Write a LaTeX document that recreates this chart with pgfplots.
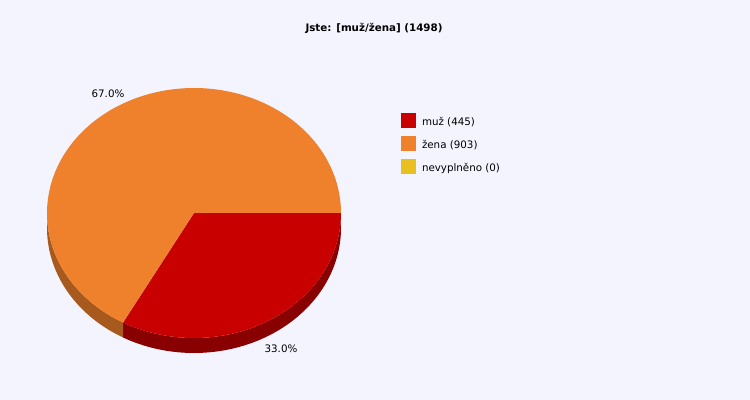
\documentclass[border=0pt]{standalone}
\usepackage{pgfplots}
\pgfplotsset{compat=1.18}
\usepgfplotslibrary{fillbetween}
\usepackage{fontspec}
\setmainfont{DejaVu Sans}
\definecolor{bg}{RGB}{244,244,255}
\definecolor{muz}{RGB}{200,0,0}
\definecolor{muzside}{RGB}{136,0,0}
\definecolor{zena}{RGB}{240,129,44}
\definecolor{zenaside}{RGB}{168,90,30}
\definecolor{nevypl}{RGB}{232,192,32}
\newcommand{\chartfont}{\fontsize{10.3bp}{12bp}\selectfont}
% counts per answer
\def\nmuz{445}
\def\nzena{903}
\def\nnone{0}
\pgfmathsetmacro{\amuz}{360*(\nmuz/(\nmuz+\nzena+\nnone))}
\pgfmathsetmacro{\azena}{360-\amuz}
% pie geometry in pixels (y up)
\def\cx{194}\def\cy{187}\def\rx{147}\def\ry{125}\def\dep{15}
\begin{document}
\begin{tikzpicture}
\fill[bg] (0,0) rectangle (750bp,400bp);
\begin{axis}[
    at={(0,0)}, anchor=south west,
    scale only axis, width=750bp, height=400bp,
    xmin=0, xmax=750, ymin=0, ymax=400,
    hide axis, clip=false,
    legend style={at={(axis cs:401,287)}, anchor=north west,
        draw=none, fill=none, inner sep=0pt, outer sep=0pt,
        row sep=8bp, column sep=6bp, font=\chartfont,
        nodes={inner sep=0pt}},
    legend cell align=left,
    legend image code/.code={\fill[#1] (0bp,-5.5bp) rectangle (15bp,9.5bp);},
]
% side walls
\addplot[draw=none, name path=rtop, domain=-\amuz:0, samples=80, forget plot]
    ({\cx+\rx*cos(x)},{\cy+\ry*sin(x)});
\addplot[draw=none, name path=rbot, domain=-\amuz:0, samples=80, forget plot]
    ({\cx+\rx*cos(x)},{\cy-\dep+\ry*sin(x)});
\addplot[fill=muzside, draw=none, forget plot]
    fill between[of=rtop and rbot, on layer=main];
\addplot[draw=none, name path=ztop, domain=180:\azena, samples=50, forget plot]
    ({\cx+\rx*cos(x)},{\cy+\ry*sin(x)});
\addplot[draw=none, name path=zbot, domain=180:\azena, samples=50, forget plot]
    ({\cx+\rx*cos(x)},{\cy-\dep+\ry*sin(x)});
\addplot[fill=zenaside, draw=none, forget plot]
    fill between[of=ztop and zbot, on layer=main];
% top faces
\addplot[fill=muz, draw=none, domain=-\amuz:0, samples=80]
    ({\cx+\rx*cos(x)},{\cy+\ry*sin(x)}) -- (axis cs:\cx,\cy) -- cycle;
\addlegendentry{muž (445)}
\addplot[fill=zena, draw=none, domain=0:\azena, samples=160]
    ({\cx+\rx*cos(x)},{\cy+\ry*sin(x)}) -- (axis cs:\cx,\cy) -- cycle;
\addlegendentry{žena (903)}
\addlegendimage{fill=nevypl, draw=none}
\addlegendentry{nevyplněno (0)}
% labels
\node[font=\chartfont\bfseries] at (axis cs:374,372) {Jste: [muž/žena] (1498)};
\node[font=\chartfont] at (axis cs:108,306) {67.0\%};
\node[font=\chartfont] at (axis cs:281,51) {33.0\%};
\end{axis}
\end{tikzpicture}
\end{document}
